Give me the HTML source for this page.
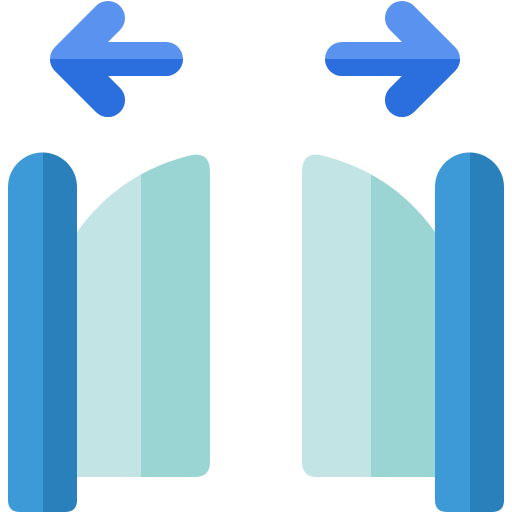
<!DOCTYPE html>
<html><head><meta charset="utf-8"><style>html,body{margin:0;padding:0;background:#fff}svg{display:block}</style></head>
<body>
<svg width="512" height="512" viewBox="0 0 512 512">
<defs>
<clipPath id="bot"><rect x="0" y="59" width="512" height="60"/></clipPath>
<clipPath id="ldoor"><path d="M77 232 Q120 172 192 155 Q210 152 210 172 L210 462 Q210 477 195 477 L77 477 Z"/></clipPath>
<clipPath id="rdoor"><path d="M435 232 Q392 172 320 155 Q302 152 302 172 L302 462 Q302 477 317 477 L435 477 Z"/></clipPath>
<clipPath id="lpost"><path d="M8 187 A34.5 34.5 0 0 1 77 187 L77 500 Q77 512 65 512 L20 512 Q8 512 8 500 Z"/></clipPath>
<clipPath id="rpost"><path d="M435 187 A34.5 34.5 0 0 1 504 187 L504 500 Q504 512 492 512 L447 512 Q435 512 435 500 Z"/></clipPath>
</defs>
<g fill="none" stroke-width="34" stroke-linecap="round" stroke-linejoin="round">
<path d="M166 59 H67 M108 18 L67 59 L108 100" stroke="#5a93ef"/>
<path d="M166 59 H67 M108 18 L67 59 L108 100" stroke="#2a6fdd" clip-path="url(#bot)"/>
</g>
<g fill="none" stroke-width="34" stroke-linecap="round" stroke-linejoin="round">
<path d="M342 59 H443 M402 18 L443 59 L402 100" stroke="#5a93ef"/>
<path d="M342 59 H443 M402 18 L443 59 L402 100" stroke="#2a6fdd" clip-path="url(#bot)"/>
</g>
<g clip-path="url(#ldoor)">
<rect x="70" y="140" width="71" height="340" fill="#c2e4e5"/>
<rect x="141" y="140" width="75" height="340" fill="#9bd5d3"/>
</g>
<g clip-path="url(#rdoor)">
<rect x="296" y="140" width="75" height="340" fill="#c2e4e5"/>
<rect x="371" y="140" width="70" height="340" fill="#9bd5d3"/>
</g>
<g clip-path="url(#lpost)">
<rect x="0" y="140" width="43" height="380" fill="#3d9ad6"/>
<rect x="43" y="140" width="40" height="380" fill="#2980ba"/>
</g>
<g clip-path="url(#rpost)">
<rect x="430" y="140" width="40" height="380" fill="#3d9ad6"/>
<rect x="470" y="140" width="42" height="380" fill="#2980ba"/>
</g>
</svg>
</body></html>
